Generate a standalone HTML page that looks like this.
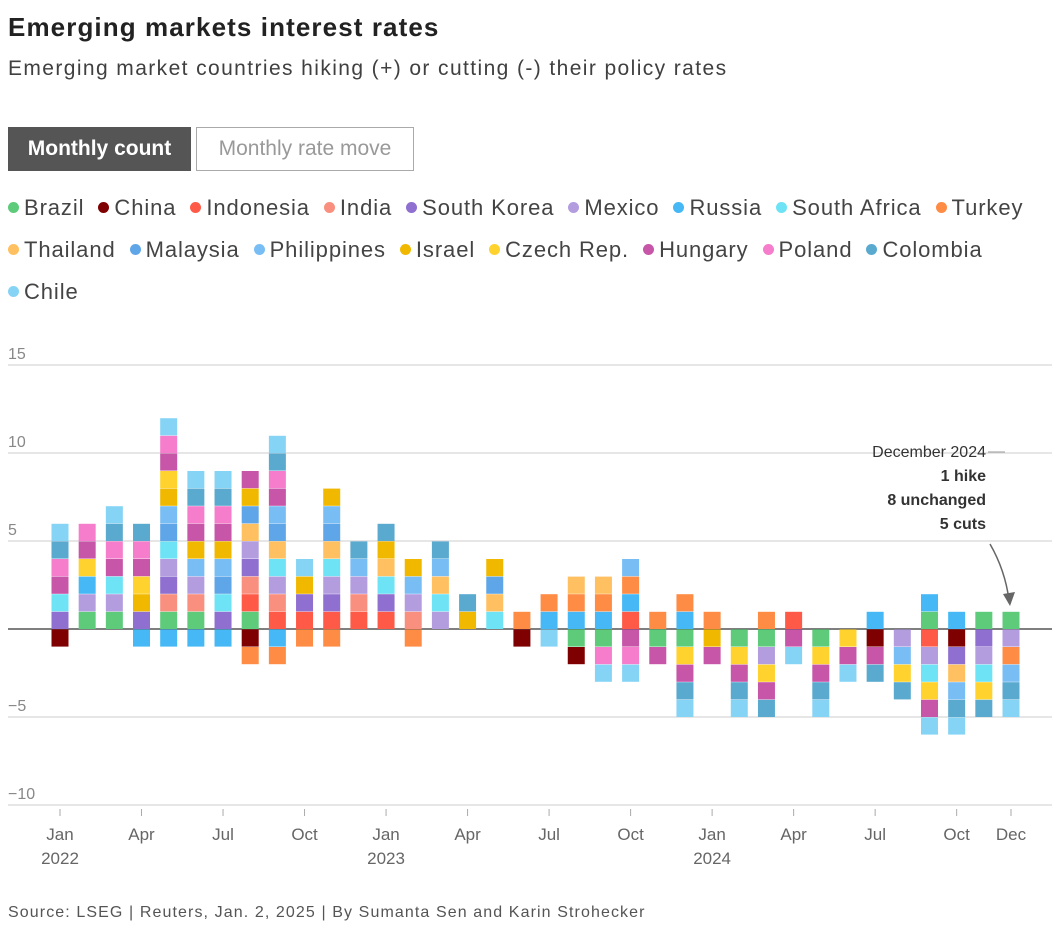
<!DOCTYPE html>
<html><head><meta charset="utf-8"><style>
body{margin:0;background:#fff;font-family:"Liberation Sans",sans-serif;color:#333;width:1057px;height:935px;overflow:hidden;position:relative}
.t{position:absolute;left:8px;top:12px;font-size:26px;font-weight:bold;color:#222;letter-spacing:1.1px}
.s{position:absolute;left:8px;top:57px;font-size:21px;color:#404040;letter-spacing:1.4px}
.b1{position:absolute;left:8px;top:127px;width:183px;height:44px;background:#555;color:#fff;font-size:21px;font-weight:bold;line-height:44px;text-align:center}
.b2{position:absolute;left:196px;top:127px;width:216px;height:42px;border:1px solid #aaa;color:#999;font-size:21px;line-height:42px;text-align:center}
.lg{position:absolute;left:8px;top:187px;width:1045px;display:flex;flex-wrap:wrap;font-size:22px;color:#444;line-height:42px;letter-spacing:0.9px}
.lg span{margin-right:14px;white-space:nowrap}
.lg i{display:inline-block;width:11px;height:11px;border-radius:50%;margin-right:5px;vertical-align:2px}
.src{position:absolute;left:8px;top:904px;font-size:16px;color:#555;letter-spacing:1.1px}
</style></head><body>
<div class="t">Emerging markets interest rates</div>
<div class="s">Emerging market countries hiking (+) or cutting (-) their policy rates</div>
<div class="b1">Monthly count</div>
<div class="b2">Monthly rate move</div>
<div class="lg" id="lg"></div>
<svg id="ch" width="1057" height="935" style="position:absolute;left:0;top:0"></svg>
<div class="src">Source: LSEG | Reuters, Jan. 2, 2025 | By Sumanta Sen and Karin Strohecker</div>
<script>
const countries=["BR","CN","ID","IN","KR","MX","RU","ZA","TR","TH","MY","PH","IL","CZ","HU","PL","CO","CL"];
const countryNames=["Brazil","China","Indonesia","India","South Korea","Mexico","Russia","South Africa","Turkey","Thailand","Malaysia","Philippines","Israel","Czech Rep.","Hungary","Poland","Colombia","Chile"];
const colors=["#5ecb7b","#7f0000","#ff5a47","#f98f7e","#8f6fd0","#b39ddf","#45b8f5","#6ee3f5","#ff8c45","#ffc061","#5fa6e8","#79bdf5","#f1b800","#ffd22e","#c755a8","#f57dcc","#5aaad0","#86d4f5"];
const months=["Jan 2022","Feb 2022","Mar 2022","Apr 2022","May 2022","Jun 2022","Jul 2022","Aug 2022","Sep 2022","Oct 2022","Nov 2022","Dec 2022","Jan 2023","Feb 2023","Mar 2023","Apr 2023","May 2023","Jun 2023","Jul 2023","Aug 2023","Sep 2023","Oct 2023","Nov 2023","Dec 2023","Jan 2024","Feb 2024","Mar 2024","Apr 2024","May 2024","Jun 2024","Jul 2024","Aug 2024","Sep 2024","Oct 2024","Nov 2024","Dec 2024"];
const hikes=[["KR","ZA","HU","PL","CO","CL"],["BR","MX","RU","CZ","HU","PL"],["BR","MX","ZA","HU","PL","CO","CL"],["KR","IL","CZ","HU","PL","CO"],["BR","IN","KR","MX","ZA","MY","PH","IL","CZ","HU","PL","CL"],["BR","IN","MX","PH","IL","HU","PL","CO","CL"],["KR","ZA","MY","PH","IL","HU","PL","CO","CL"],["BR","ID","IN","KR","MX","TH","MY","IL","HU"],["ID","IN","MX","ZA","TH","MY","PH","HU","PL","CO","CL"],["ID","KR","IL","CL"],["ID","KR","MX","ZA","TH","MY","PH","IL"],["ID","IN","MX","PH","CO"],["ID","KR","ZA","TH","IL","CO"],["IN","MX","PH","IL"],["MX","ZA","TH","PH","CO"],["IL","CO"],["ZA","TH","MY","IL"],["TR"],["RU","TR"],["RU","TR","TH"],["RU","TR","TH"],["ID","RU","TR","PH"],["TR"],["RU","TR"],["TR"],[],["TR"],["ID"],[],[],["RU"],[],["BR","RU"],["RU"],["BR"],["BR"]];
const cuts=[["CN"],[],[],["RU"],["RU"],["RU"],["RU"],["CN","TR"],["RU","TR"],["TR"],["TR"],[],[],["TR"],[],[],[],["CN"],["CL"],["BR","CN"],["BR","PL","CL"],["HU","PL","CL"],["BR","HU"],["BR","CZ","HU","CO","CL"],["IL","HU"],["BR","CZ","HU","CO","CL"],["BR","MX","CZ","HU","CO"],["HU","CL"],["BR","CZ","HU","CO","CL"],["CZ","HU","CL"],["CN","HU","CO"],["MX","PH","CZ","CO"],["ID","MX","ZA","CZ","HU","CL"],["CN","KR","TH","PH","CO","CL"],["KR","MX","ZA","CZ","CO"],["MX","TR","PH","CO","CL"]];
const yTicks=[15,10,5,0,-5,-10];
const xTickLabels=[["Jan","2022",0],["Apr","",3],["Jul","",6],["Oct","",9],["Jan","2023",12],["Apr","",15],["Jul","",18],["Oct","",21],["Jan","2024",24],["Apr","",27],["Jul","",30],["Oct","",33],["Dec","",35]];

const lg=document.getElementById('lg');
countryNames.forEach((n,i)=>{const s=document.createElement('span');


s.innerHTML='<i style="background:'+colors[i]+'"></i>'+n;lg.appendChild(s);});

const svg=document.getElementById('ch');const NS='http://www.w3.org/2000/svg';
const X=i=>60+i*(1011-60)/35;const Y=v=>629-v*17.6;
function mk(t,a,p){const e=document.createElementNS(NS,t);for(const k in a)e.setAttribute(k,a[k]);(p||svg).appendChild(e);return e;}
yTicks.forEach(v=>{const l=mk('line',{x1:8,x2:1052,y1:Y(v),y2:Y(v),stroke:v===0?'#555':'#ddd','stroke-width':1.5});


if(v!==0){const t=mk('text',{x:8,y:Y(v)-6,'font-size':16,fill:'#888'});t.textContent=v<0?'\u2212'+(-v):v;

}});
xTickLabels.forEach(([m,y,i])=>{mk('line',{x1:X(i),x2:X(i),y1:809,y2:816,stroke:'#aaa'});
const t=mk('text',{x:X(i),y:840,'font-size':17,fill:'#666','text-anchor':'middle'});t.textContent=m;


if(y){const t2=mk('text',{x:X(i),y:864,'font-size':17,fill:'#666','text-anchor':'middle'});t2.textContent=y;

}});
const ci=c=>countries.indexOf(c);
months.forEach((m,i)=>{const g=mk('g',{});


hikes[i].forEach((c,k)=>{const r=mk('rect',{x:X(i)-8.5,y:Y(k+1)+0.4,width:17,height:17.2,fill:colors[ci(c)]},g);

});
cuts[i].forEach((c,k)=>{const r=mk('rect',{x:X(i)-8.5,y:Y(-k)+0.4,width:17,height:17.2,fill:colors[ci(c)]},g);

});});
const ann=[["December 2024",457,'normal'],["1 hike",481,'bold'],["8 unchanged",505,'bold'],["5 cuts",529,'bold']];
ann.forEach(([s,y,w])=>{const t=mk('text',{x:986,y:y,'font-size':16,fill:'#333','font-weight':w,'text-anchor':'end'});t.textContent=s;

});
mk('line',{x1:988,x2:1005,y1:452,y2:452,stroke:'#999'});
const p=mk('path',{d:'M990 544 Q1005 570 1009 600',stroke:'#666','stroke-width':1.5,fill:'none'});


mk('path',{d:'M1003 594 L1010 606 L1015 592 Z',fill:'#666'});
</script>
</body></html>
